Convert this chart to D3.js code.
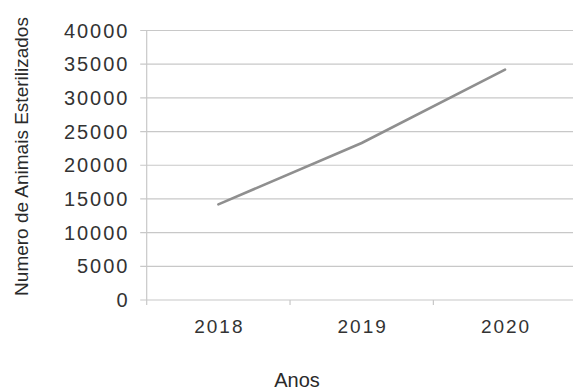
<!DOCTYPE html>
<html>
<head>
<meta charset="utf-8">
<script src="https://cdn.jsdelivr.net/npm/d3@7/dist/d3.min.js"></script>
<style>
  html, body { margin: 0; padding: 0; background: #fff; }
  svg { display: block; }
</style>
</head>
<body>
<svg id="chart" width="573" height="389"></svg>
<script>
// Sterilized animals per year
const years = ["2018", "2019", "2020"];
const sterilized = [14200, 23300, 34200];
const yTicks = [0, 5000, 10000, 15000, 20000, 25000, 30000, 35000, 40000];

(function draw() {
  const svg = d3.select("#chart");
  const plotLeft = 146.7, plotRight = 576.7, plotTop = 30.5, plotBottom = 300;

  const x = d3.scaleBand().domain(years).range([plotLeft, plotRight]);
  const y = d3.scaleLinear().domain([0, 40000]).range([plotBottom, plotTop]);

  const gridColor = "#c8c8c8";

  // horizontal gridlines with short outer ticks
  svg.append("g").selectAll("line").data(yTicks).join("line")
    .attr("x1", plotLeft - 6.5).attr("x2", plotRight)
    .attr("y1", d => y(d)).attr("y2", d => y(d))
    .attr("stroke", gridColor).attr("stroke-width", 1.2);

  // vertical axis line
  svg.append("line")
    .attr("x1", plotLeft).attr("x2", plotLeft)
    .attr("y1", plotTop).attr("y2", plotBottom + 5)
    .attr("stroke", gridColor).attr("stroke-width", 1.2);

  // category boundary ticks below the baseline
  svg.append("g").selectAll("line").data(years.slice(1)).join("line")
    .attr("x1", d => x(d)).attr("x2", d => x(d))
    .attr("y1", plotBottom).attr("y2", plotBottom + 5)
    .attr("stroke", gridColor).attr("stroke-width", 1.2);

  // y tick labels
  const spacing = 2;
  svg.append("g").selectAll("text").data(yTicks).join("text")
    .attr("x", 127.5 + spacing).attr("y", d => y(d) + 7)
    .attr("text-anchor", "end")
    .attr("font-family", "Liberation Sans, Arial, sans-serif")
    .attr("font-size", 20)
    .attr("letter-spacing", spacing)
    .attr("fill", "#333")
    .text(d => d);

  // x tick labels
  svg.append("g").selectAll("text").data(years).join("text")
    .attr("x", d => x(d) + x.bandwidth() / 2 + 1).attr("y", 332.7)
    .attr("text-anchor", "middle")
    .attr("font-family", "Liberation Sans, Arial, sans-serif")
    .attr("font-size", 19)
    .attr("letter-spacing", 2)
    .attr("fill", "#333")
    .text(d => d);

  // series line
  const line = d3.line()
    .x((d, i) => x(years[i]) + x.bandwidth() / 2)
    .y(d => y(d));
  svg.append("path").datum(sterilized)
    .attr("d", line)
    .attr("fill", "none")
    .attr("stroke", "#8f8f8f")
    .attr("stroke-width", 2.6)
    .attr("stroke-linecap", "round");

  // axis titles
  svg.append("text")
    .attr("transform", "translate(28,156.5) rotate(-90)")
    .attr("text-anchor", "middle")
    .attr("font-family", "Liberation Sans, Arial, sans-serif")
    .attr("font-size", 19)
    .attr("fill", "#2a2a2a")
    .text("Numero de Animais Esterilizados");

  svg.append("text")
    .attr("x", 297).attr("y", 386.5)
    .attr("text-anchor", "middle")
    .attr("font-family", "Liberation Sans Narrow, Liberation Sans, sans-serif")
    .attr("font-size", 20)
    .attr("fill", "#2a2a2a")
    .text("Anos");
})();
</script>
</body>
</html>
